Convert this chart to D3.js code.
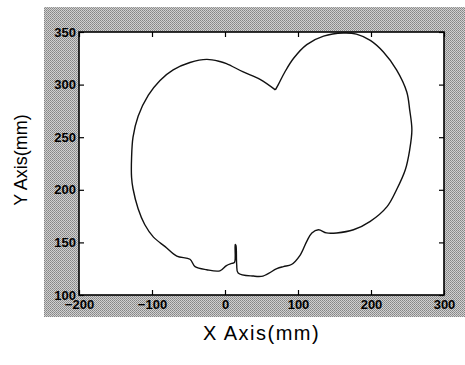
<!DOCTYPE html>
<html>
<head>
<meta charset="utf-8">
<script src="https://cdn.jsdelivr.net/npm/d3@7"></script>
<style>
    body { margin: 0; background: #fff; }
    svg { display: block; }
</style>
</head>
<body>
<div id="chart"></div>
<script>
// Outline of the measured contour, in mm, going clockwise from the notch at the top
const curveX = [69, 73, 82, 94, 112, 135, 162, 180, 199, 217, 235, 249, 253, 256, 253, 247,
    235, 222, 199, 176, 153, 139, 128, 119, 112, 103, 91, 80, 71, 52, 39, 18, 16, 15, 14,
    13, 9, 2, -7, -25, -41, -48, -66, -82, -98, -110, -119, -126, -128, -128, -126, -119,
    -105, -89, -71, -48, -25, -7, 2, 25, 48, 69];
const curveY = [295, 300, 312, 325, 338, 346, 349, 348, 342, 331, 314, 293, 276, 257, 238, 219,
    200, 184, 170, 162, 159, 159, 162, 159, 151, 138, 129, 127, 125, 118, 118, 121, 129, 147, 148,
    131, 130, 128, 123, 124, 127, 134, 137, 146, 155, 167, 182, 201, 212, 230, 250, 270,
    290, 304, 314, 321, 324, 322, 320, 312, 305, 295];

const xTicks = [-200, -100, 0, 100, 200, 300];
const yTicks = [100, 150, 200, 250, 300, 350];

const width = 465;
const height = 365;
const margin = { left: 79, right: 21, top: 32, bottom: 70 };

const svg = d3.select("#chart").append("svg")
    .attr("width", width)
    .attr("height", height);

// Gray dotted backdrop behind the axes box
const defs = svg.append("defs");
const pat = defs.append("pattern")
    .attr("id", "dither")
    .attr("width", 2)
    .attr("height", 2)
    .attr("patternUnits", "userSpaceOnUse");
pat.append("rect").attr("width", 2).attr("height", 2).attr("fill", "#d0d0d0");
pat.append("rect").attr("width", 1).attr("height", 1).attr("fill", "#858585");
pat.append("rect").attr("x", 1).attr("y", 1).attr("width", 1).attr("height", 1).attr("fill", "#959595");

svg.append("rect")
    .attr("x", 44)
    .attr("y", 7)
    .attr("width", width - 44)
    .attr("height", 310)
    .attr("fill", "url(#dither)");

const x = d3.scaleLinear()
    .domain([-200, 300])
    .range([margin.left, width - margin.right]);
const y = d3.scaleLinear()
    .domain([100, 350])
    .range([height - margin.bottom, margin.top]);

// White plot area
svg.append("rect")
    .attr("x", x(-200))
    .attr("y", y(350))
    .attr("width", x(300) - x(-200))
    .attr("height", y(100) - y(350))
    .attr("fill", "#fff");

// Contour
const line = d3.line()
    .x((d, i) => x(curveX[i]))
    .y((d, i) => y(curveY[i]))
    .curve(d3.curveCatmullRom.alpha(0.5));

svg.append("path")
    .attr("d", line(curveX))
    .attr("fill", "none")
    .attr("stroke", "#111")
    .attr("stroke-width", 1.4)
    .attr("stroke-linejoin", "round");

// Axes, ticks pointing inward
function styleAxis(g) {
    g.select(".domain").remove();
    g.selectAll(".tick line").attr("stroke", "#000").attr("stroke-width", 1.2);
    g.selectAll(".tick text")
        .attr("fill", "#000")
        .style("font-family", "'Liberation Sans', Arial, sans-serif")
        .style("font-size", "13px")
        .style("font-weight", "bold");
}

svg.append("g")
    .attr("transform", `translate(0,${y(100)})`)
    .call(d3.axisBottom(x).tickValues(xTicks).tickSize(-5).tickPadding(5).tickFormat(d3.format("d")))
    .call(styleAxis);

svg.append("g")
    .attr("transform", `translate(${x(-200)},0)`)
    .call(d3.axisLeft(y).tickValues(yTicks).tickSize(-5).tickPadding(3).tickFormat(d3.format("d")))
    .call(styleAxis);

svg.append("g")
    .attr("transform", `translate(0,${y(350)})`)
    .call(d3.axisTop(x).tickValues(xTicks).tickSize(-5).tickFormat(""))
    .call(styleAxis);

svg.append("g")
    .attr("transform", `translate(${x(300)},0)`)
    .call(d3.axisRight(y).tickValues(yTicks).tickSize(-5).tickFormat(""))
    .call(styleAxis);

// Box
svg.append("rect")
    .attr("x", x(-200))
    .attr("y", y(350))
    .attr("width", x(300) - x(-200))
    .attr("height", y(100) - y(350))
    .attr("fill", "none")
    .attr("stroke", "#000")
    .attr("stroke-width", 1.6);

// Axis titles
svg.append("text")
    .attr("x", (x(-200) + x(300)) / 2)
    .attr("y", 340)
    .attr("text-anchor", "middle")
    .style("font-family", "'Liberation Sans', Arial, sans-serif")
    .style("font-size", "20px")
    .style("letter-spacing", "1.5px")
    .text("X Axis(mm)");

svg.append("text")
    .attr("transform", `translate(27,160) rotate(-90)`)
    .attr("text-anchor", "middle")
    .style("font-family", "'Liberation Sans', Arial, sans-serif")
    .style("font-size", "18px")
    .text("Y Axis(mm)");
</script>
</body>
</html>
